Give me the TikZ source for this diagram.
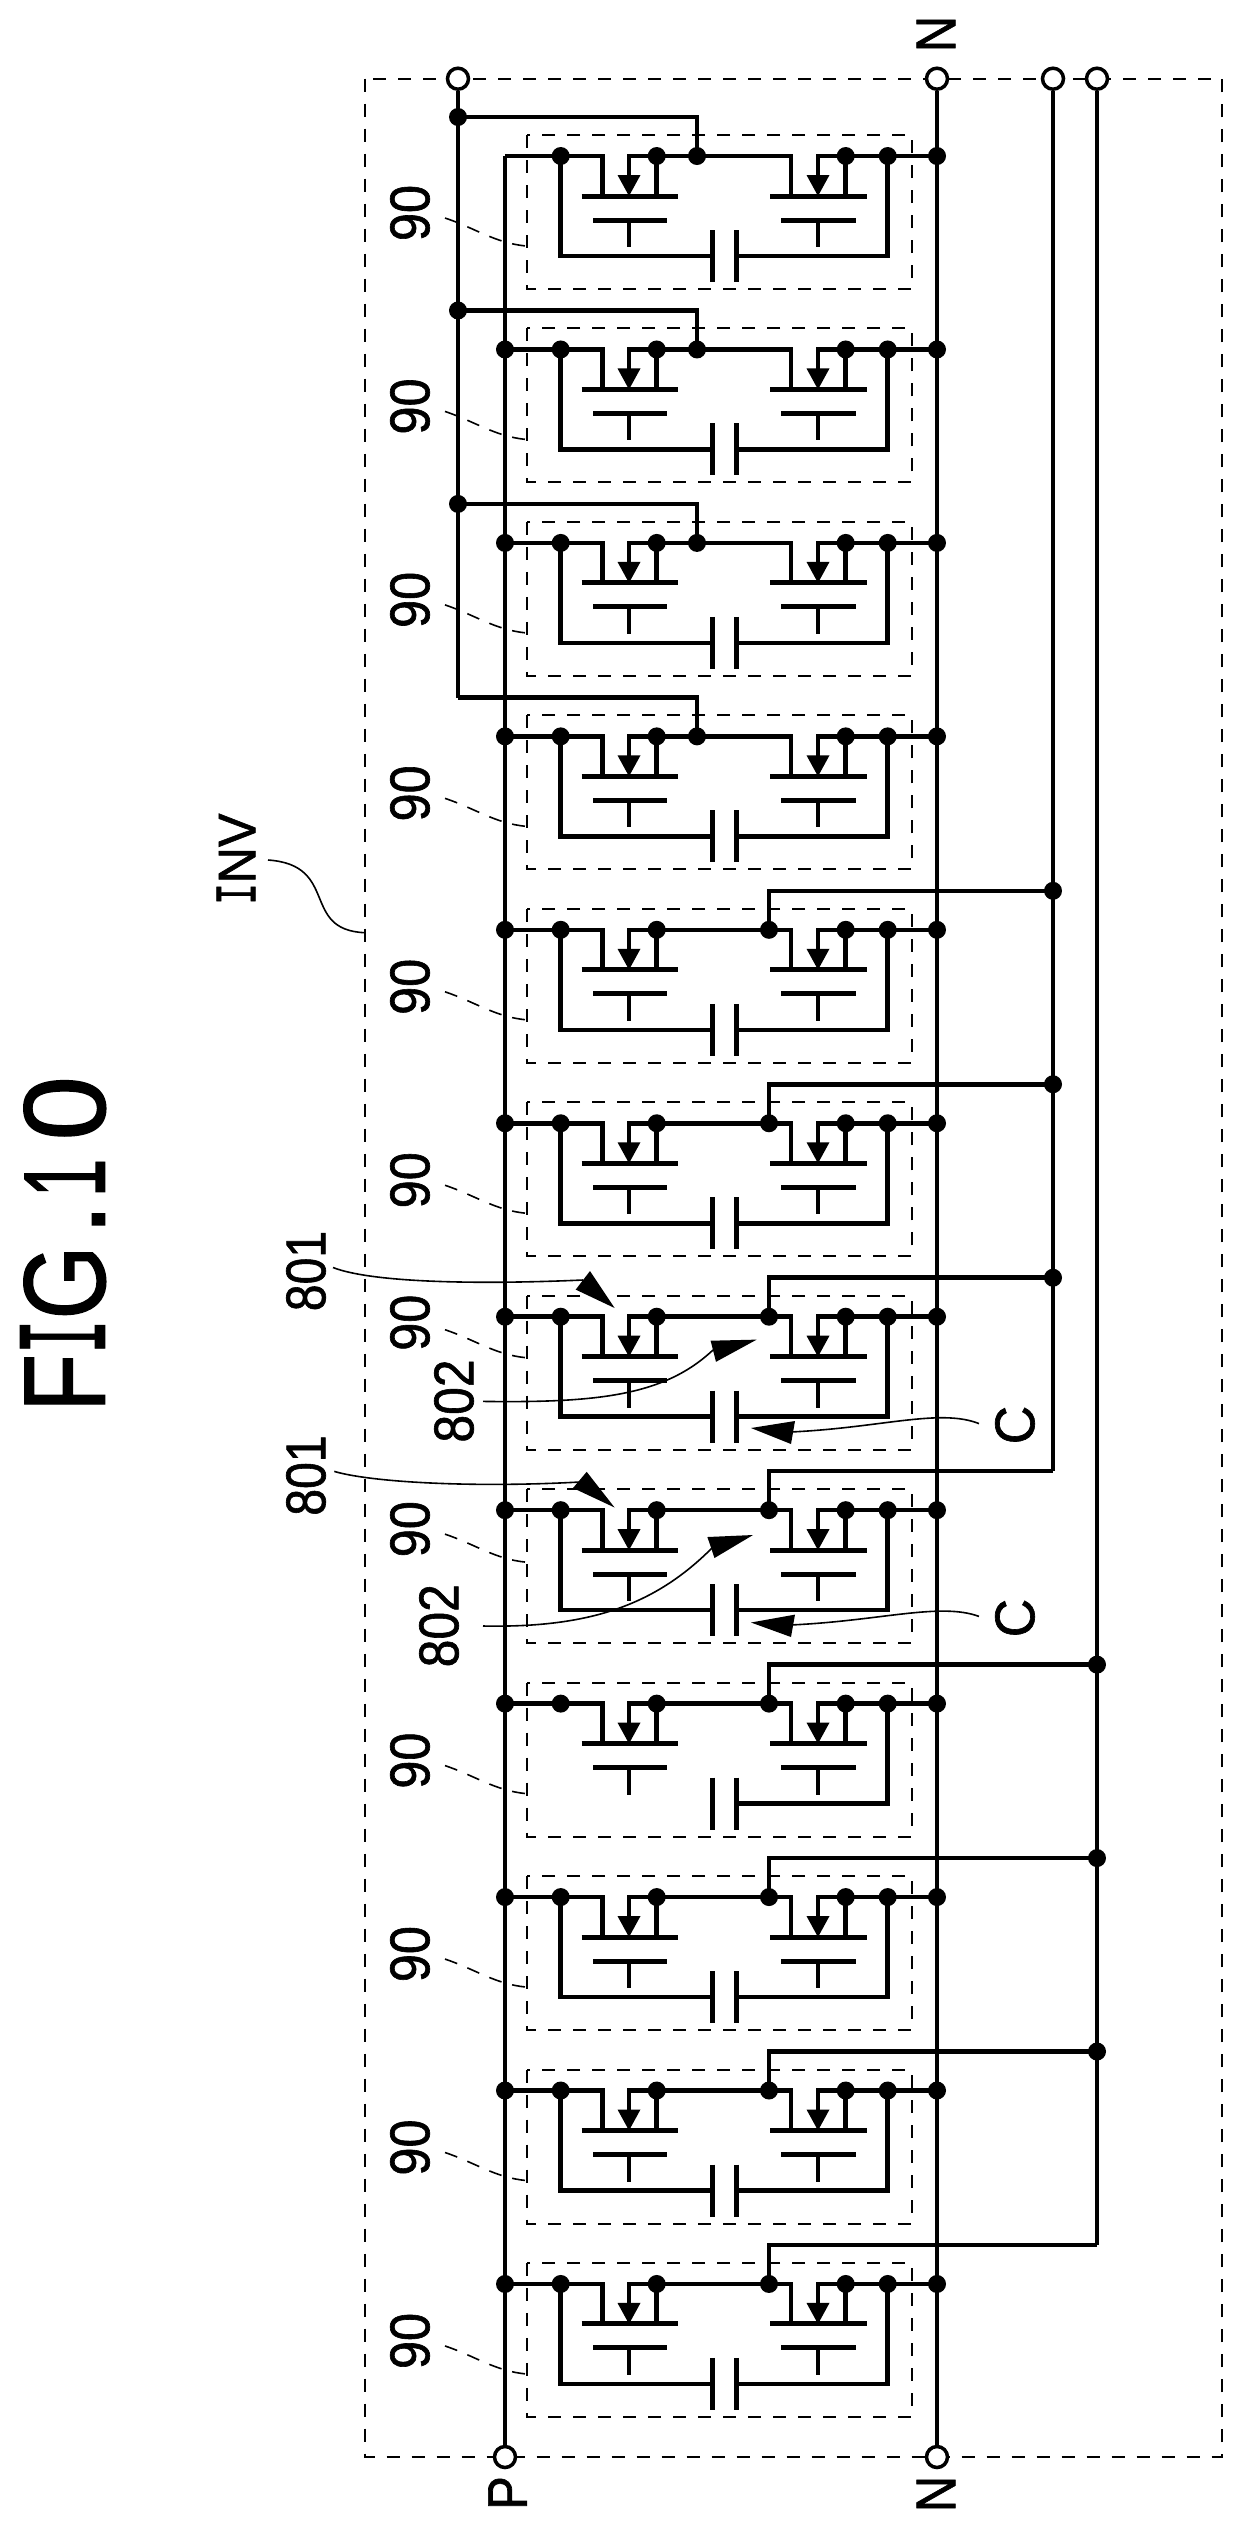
\documentclass[tikz,border=0pt]{standalone}
\usepackage{fontspec}
\usepackage{graphicx}
\setmainfont{Liberation Sans}[FakeBold=1.2]
\newfontfamily\serifI{DejaVu Sans Mono}[FakeBold=1]
\newcommand\sqz[2][.9]{\scalebox{#1}[1]{#2}}
\tikzset{
  wire/.style={line width=4.5pt,line join=miter,line cap=butt},
  plate/.style={line width=5pt},
  box/.style={line width=2pt,dash pattern=on 13pt off 12pt},
  lead/.style={line width=1.6pt},
  dlead/.style={line width=1.6pt,dash pattern=on 13pt off 11pt},
  dot/.style={circle,fill=black,inner sep=0pt,minimum size=18pt},
  term/.style={circle,draw=black,fill=white,line width=3.5pt,inner sep=0pt,minimum size=21pt},
  lbl/.style={rotate=90,inner sep=0pt,font=\fontsize{56}{56}\selectfont},
  head/.style={fill=black,draw=none}
}
\begin{document}
\begin{tikzpicture}[x=1pt,y=-1pt]
\useasboundingbox (0,0) rectangle (1246,2528);
% outer box
\draw[box] (365,78.7) rectangle (1222,2457);
% modules
\foreach \i in {1,...,12}{
  \pgfmathsetmacro\ry{156+(\i-1)*193.45}
  \ifnum\i<5 \def\mx{697}\else\def\mx{769}\fi
  \begin{scope}[shift={(0,\ry)}]
    \draw[box] (527,-21) rectangle (912,133);
    \coordinate (P\i) at (505,0);
    \coordinate (A\i) at (560.7,0);
    \coordinate (d\i) at (602.7,0);
    \coordinate (s\i) at (629,0);
    \coordinate (b\i) at (656.7,0);
    \coordinate (M\i) at (\mx,0);
    \coordinate (e\i) at (791,0);
    \coordinate (t\i) at (818,0);
    \coordinate (g\i) at (845.7,0);
    \coordinate (c\i) at (887.7,0);
    \coordinate (Z\i) at (937,0);
    \coordinate (F\i) at (\mx,-39);
    % rung
    \draw[wire] (P\i) -- (d\i) -- ++(0,40);
    \draw[wire] (s\i) ++(0,24) -- (s\i) -- (M\i) -- (e\i) -- ++(0,40);
    \draw[wire] (t\i) ++(0,24) -- (t\i) -- (Z\i);
    \draw[wire] (b\i) -- ++(0,40);
    \draw[wire] (g\i) -- ++(0,40);
    % source arrows
    \fill (s\i) ++(-11.5,19) -- ++(23,0) -- ++(-11.5,21) -- cycle;
    \fill (t\i) ++(-11.5,19) -- ++(23,0) -- ++(-11.5,21) -- cycle;
    % gate plates
    \draw[plate] (581.7,40) -- (677.7,40);
    \draw[plate] (770,40) -- (866.7,40);
    \draw[plate] (593,64) -- (666.7,64);
    \draw[plate] (781,64) -- (855.7,64);
    \draw[wire] (629,64) -- (629,91);
    \draw[wire] (818,64) -- (818,91);
    % capacitor
    \draw[plate] (712.3,74) -- (712.3,126);
    \draw[plate] (736,74) -- (736,126);
    \ifnum\i=9\else
      \draw[wire] (712.3,100) -| (A\i);
    \fi
    \draw[wire] (736,100) -| (c\i);
  \end{scope}
}
% rails
\node[term] (TP) at (458,78.7) {};
\node[term] (TZ) at (937,78.7) {};
\node[term] (TU) at (1053,78.7) {};
\node[term] (TV) at (1097,78.7) {};
\node[term] (BP) at (505,2457) {};
\node[term] (BZ) at (937,2457) {};
\coordinate (LC) at (458,698);
\coordinate (UC) at (1053,1471);
\coordinate (VC) at (1097,2245);
\draw[wire] (TP) -- (LC);
\draw[wire] (TZ) -- (BZ);
\draw[wire] (P1) -- (BP);
\draw[wire] (TU) -- (UC);
\draw[wire] (TV) -- (VC);
% feeders
\foreach \i in {1,2,3,4}{
  \draw[wire] (F\i) ++(-239,0) -- (F\i) -- (M\i);
}
\foreach \i in {5,6,7,8}{
  \draw[wire] (M\i) -- (F\i) -- ++(284,0);
}
\foreach \i in {9,10,11,12}{
  \draw[wire] (M\i) -- (F\i) -- ++(328,0);
}
% junction dots
\foreach \i in {1,...,12}{
  \ifnum\i>1 \node[dot] (nP\i) at (P\i) {};\fi
  \node[dot] (nA\i) at (A\i) {};
  \node[dot] (nb\i) at (b\i) {};
  \node[dot] (nM\i) at (M\i) {};
  \node[dot] (ng\i) at (g\i) {};
  \node[dot] (nc\i) at (c\i) {};
  \node[dot] (nZ\i) at (Z\i) {};
}
\foreach \i in {1,2,3}{ \node[dot] (nL\i) at ([xshift=-239pt]F\i) {}; }
\foreach \i in {5,6,7}{ \node[dot] (nU\i) at ([xshift=284pt]F\i) {}; }
\foreach \i in {9,10,11}{ \node[dot] (nV\i) at ([xshift=328pt]F\i) {}; }
% 90 labels
\foreach \i/\ly/\dy in {1/57/0,2/57/0,3/57/0,4/57/0,5/57/0,6/57/0,7/6/-49,8/19/-38,9/57/0,10/57/0,11/57/0,12/57/0}{
  \pgfmathsetmacro\ry{156+(\i-1)*193.45}
  \begin{scope}[shift={(0,\ry)}]
    \node[lbl] (ninety\i) at (410,\ly) {\sqz{90}};
    \draw[dlead] (445,62+\dy) .. controls (475,72+\dy) and (495,87+\dy) .. (526,90+\dy);
  \end{scope}
}
% terminal labels
\node[lbl] (lN1) at (936,34) {\sqz{N}};
\node[lbl] (lP) at (507.6,2493) {\sqz{P}};
\node[lbl] (lN2) at (936,2494) {\sqz{N}};
% title
\node[rotate=90,inner sep=0pt,font=\fontsize{116}{116}\selectfont] (title) at (63,1244) {\sqz[.82]{F{\serifI\scalebox{.6}[1]{I}}G}\kern10pt.\kern6pt\sqz[.6]{1}\kern18pt 0};
% INV
\node[lbl,font=\fontsize{53}{53}\selectfont] (inv) at (236,859) {\sqz[.95]{{\serifI\scalebox{.7}[1]{I}}NV}};
\coordinate (inv1) at (268,860);
\coordinate (inv2) at (365,932.7);
\draw[lead] (inv1) .. controls (340,865) and (300,930) .. (inv2);
% 801 / 802 / C, row 7
\node[lbl] (a801) at (306,1271) {\sqz[.86]{801}};
\node[lbl] (a802) at (454,1401) {\sqz[.89]{802}};
\node[lbl] (aC) at (1015,1425) {\sqz[.95]{C}};
\coordinate (a1s) at (333,1267.5);
\coordinate (a1e) at (583,1280);
\draw[lead] (a1s) .. controls (370,1282) and (470,1285) .. (a1e);
\fill (614.6,1308) -- (590,1271) -- (575.7,1289.6) -- cycle;
\coordinate (a2s) at (483,1401.4);
\coordinate (a2e) at (713,1350);
\draw[lead] (a2s) .. controls (600,1403) and (665,1395) .. (a2e);
\fill (756.7,1339.6) -- (710.6,1340.7) -- (716,1361.8) -- cycle;
\coordinate (a3s) at (979,1423.6);
\coordinate (a3e) at (790,1432);
\draw[lead] (a3s) .. controls (940,1408) and (880,1428) .. (a3e);
\fill (751,1428) -- (795,1421) -- (791,1444) -- cycle;
% 801 / 802 / C, row 8
\node[lbl] (b801) at (306,1475.5) {\sqz[.86]{801}};
\node[lbl] (b802) at (439,1625.7) {\sqz[.89]{802}};
\node[lbl] (bC) at (1015,1618) {\sqz[.95]{C}};
\coordinate (b1s) at (334.3,1471.4);
\coordinate (b1e) at (580,1482);
\draw[lead] (b1s) .. controls (370,1482) and (470,1488) .. (b1e);
\fill (614.6,1507.5) -- (586.7,1471.8) -- (573,1488) -- cycle;
\coordinate (b2s) at (483,1626);
\coordinate (b2e) at (712,1548);
\draw[lead] (b2s) .. controls (590,1628) and (655,1605) .. (b2e);
\fill (753,1535) -- (707.4,1537) -- (714.5,1558) -- cycle;
\coordinate (b3s) at (979,1616.4);
\coordinate (b3e) at (790,1625);
\draw[lead] (b3s) .. controls (940,1602) and (880,1621) .. (b3e);
\fill (751,1622.5) -- (795,1614.6) -- (791,1637) -- cycle;
\end{tikzpicture}
\end{document}
